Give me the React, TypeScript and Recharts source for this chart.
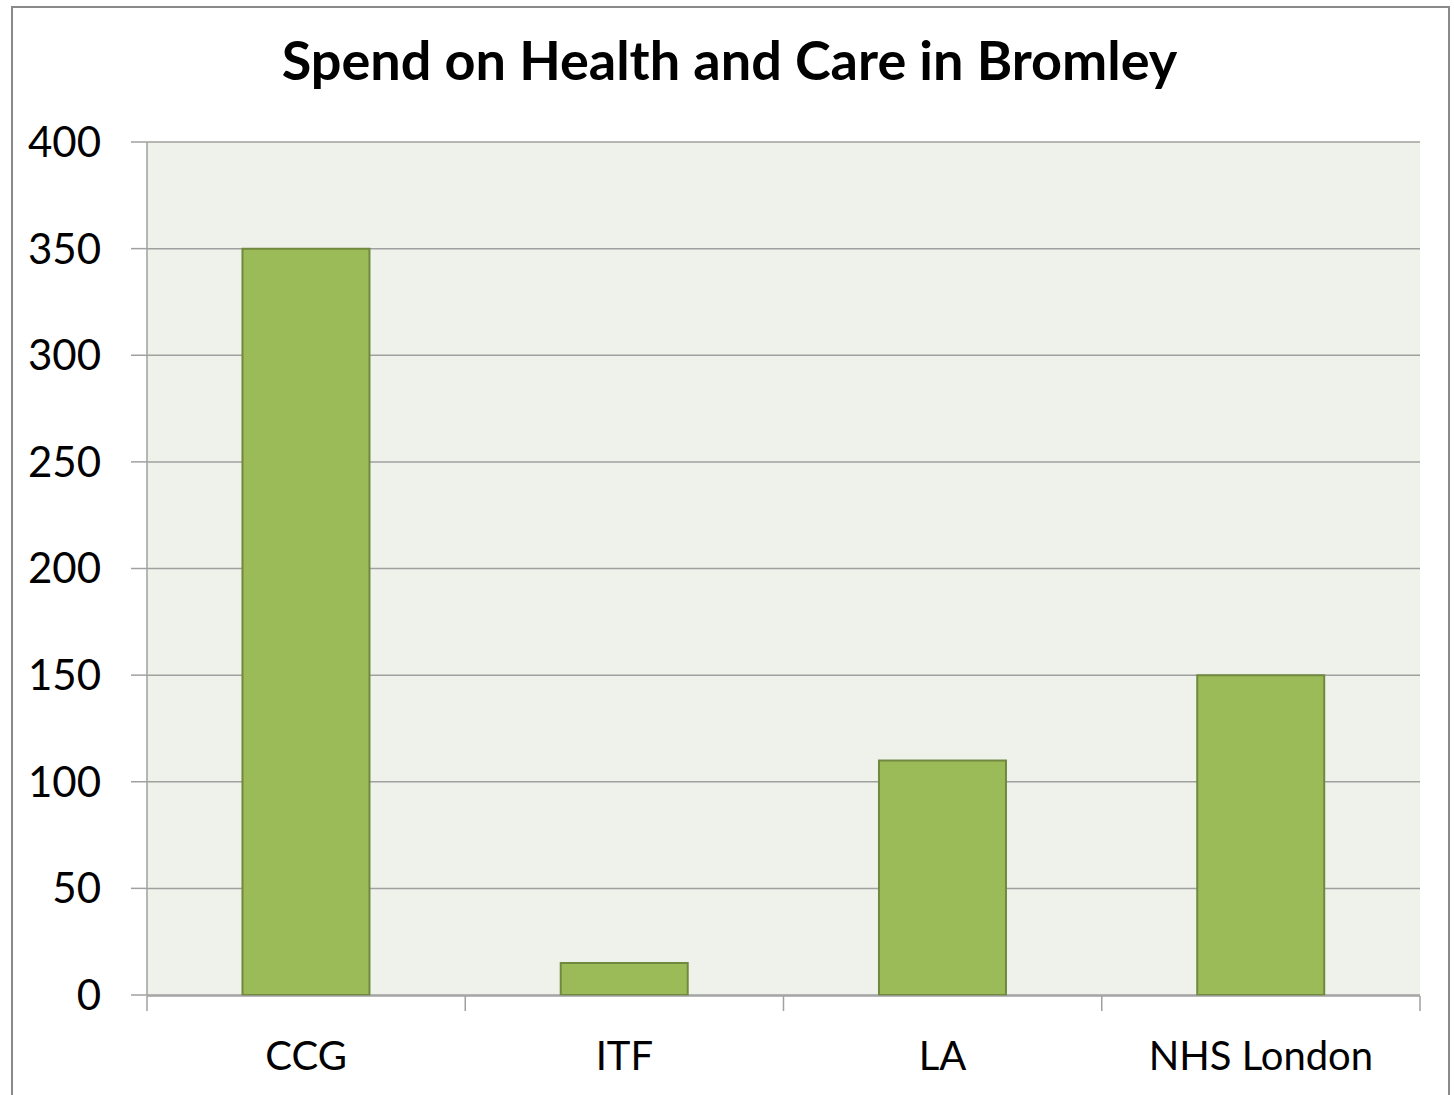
import { BarChart, Bar, XAxis, YAxis, CartesianGrid } from 'recharts'

const categories = ['CCG', 'ITF', 'LA', 'NHS London']
const spend = [350, 15, 110, 150]
const yTicks = [0, 50, 100, 150, 200, 250, 300, 350, 400]
const boundaryTicks = [0, 1, 2, 3, 4]

// slot = centre of each category on a 0..4 number axis, used only for the boundary tick marks
const data = categories.map((name, i) => ({ name, spend: spend[i], slot: i + 0.5 }))

const font = 'Lato, "Open Sans", sans-serif'
const axisGray = '#a0a0a0'

export default function App() {
  return (
    <div style={{ position: 'absolute', left: 0, top: 0, width: 1454, height: 1095, overflow: 'hidden', background: '#fff', fontFamily: font }}>
      <div
        style={{
          position: 'absolute',
          left: 11,
          top: 6,
          width: 1435,
          height: 1110,
          border: '2px solid #8a8a8a',
        }}
      />
      <div
        style={{
          position: 'absolute',
          left: 11,
          width: 1437,
          top: 27,
          textAlign: 'center',
          fontSize: 54,
          fontWeight: 700,
          color: '#000',
        }}
      >
        Spend on Health and Care in Bromley
      </div>
      <div style={{ position: 'absolute', left: 0, top: 0 }}>
        <BarChart
          width={1454}
          height={1095}
          data={data}
          margin={{ top: 142, right: 34, bottom: 98, left: 47 }}
          barCategoryGap="30%"
        >
          <CartesianGrid fill="#eff2ea" vertical={false} stroke={axisGray} strokeWidth={1.5} />
          <XAxis
            dataKey="name"
            height={1}
            axisLine={false}
            tickLine={false}
            tickSize={15}
            tickMargin={32}
            tick={{ fontSize: 40, fill: '#000', fontFamily: font }}
          />
          <XAxis
            xAxisId="bounds"
            dataKey="slot"
            type="number"
            domain={[0, 4]}
            allowDataOverflow
            ticks={boundaryTicks}
            interval={0}
            tickFormatter={() => ''}
            height={1}
            axisLine={{ stroke: axisGray, strokeWidth: 1.5 }}
            tickLine={{ stroke: axisGray, strokeWidth: 1.5 }}
            tickSize={15}
          />
          <YAxis
            width={100}
            domain={[0, 400]}
            ticks={yTicks}
            interval={0}
            axisLine={{ stroke: axisGray, strokeWidth: 1.5 }}
            tickLine={{ stroke: axisGray, strokeWidth: 1.5 }}
            tickSize={16}
            tickMargin={30}
            tick={{ fontSize: 42, fill: '#000', fontFamily: font }}
          />
          <Bar
            dataKey="spend"
            fill="#9bbb59"
            stroke="#71893f"
            strokeWidth={2}
            isAnimationActive={false}
          />
        </BarChart>
      </div>
    </div>
  )
}
